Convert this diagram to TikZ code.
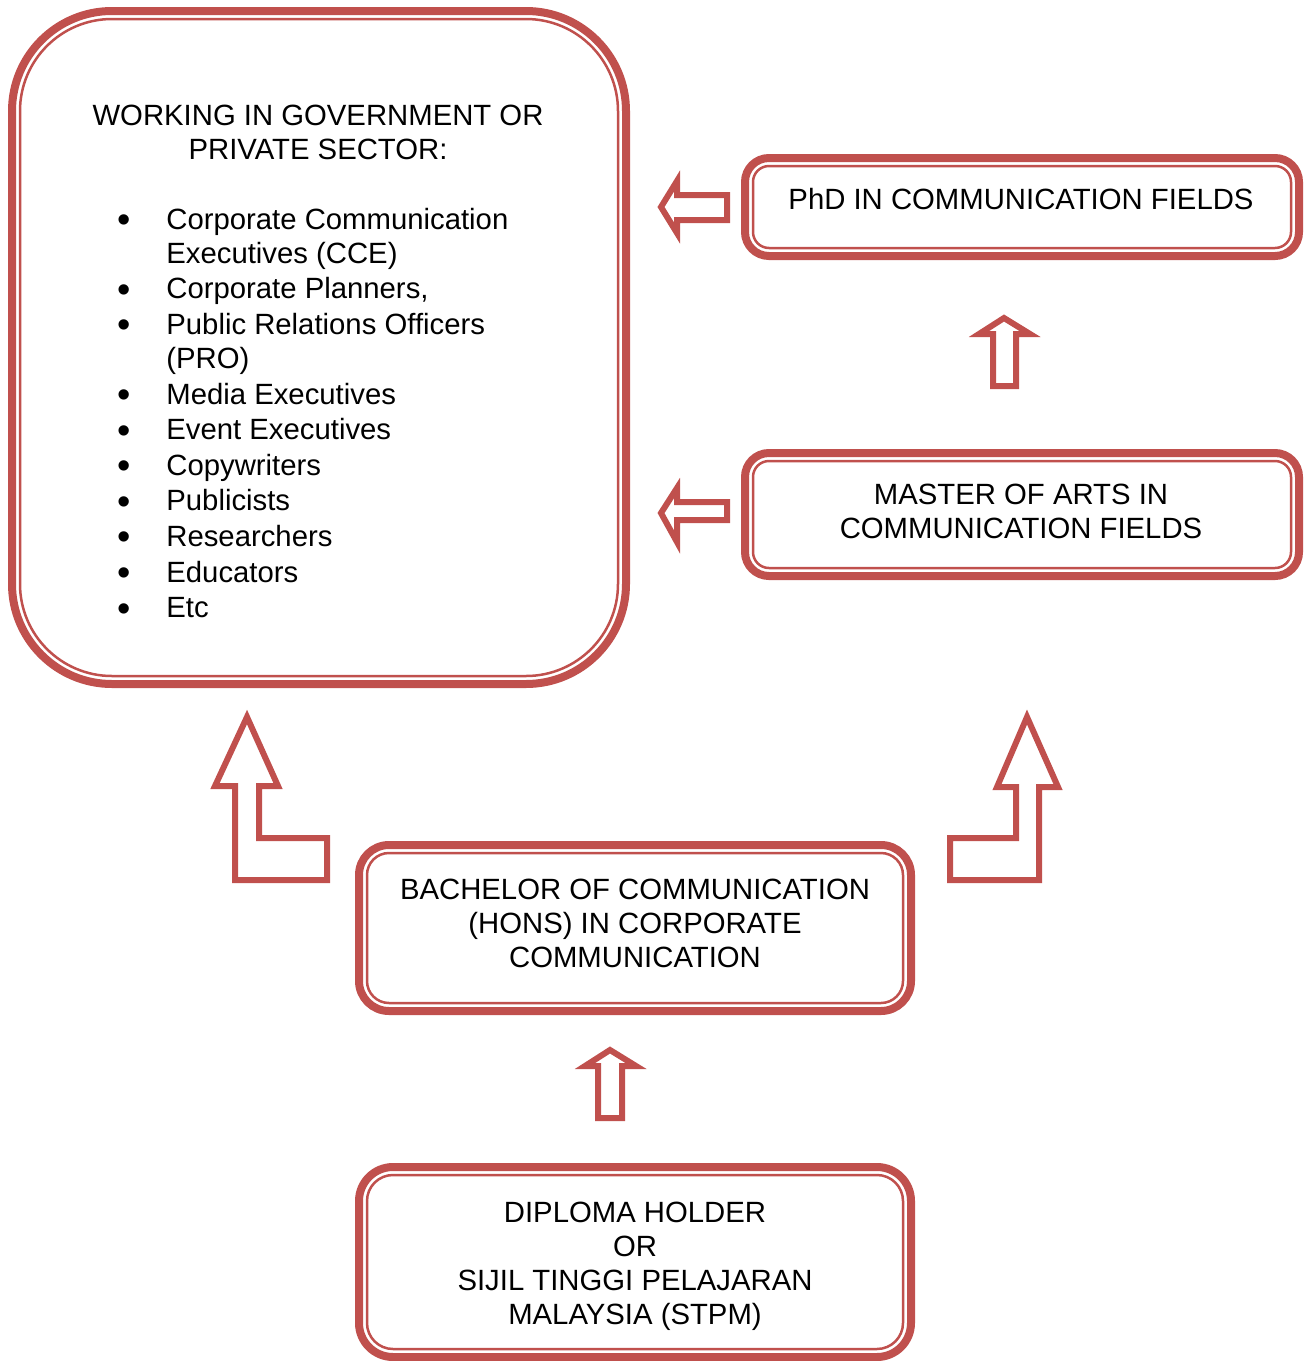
\documentclass[tikz,border=0pt]{standalone}
\usepackage{fontspec}
\setmainfont{Liberation Sans}
\usetikzlibrary{calc}
\definecolor{boxred}{HTML}{C0504D}
\newcommand{\bigbullet}{\raisebox{-1.7pt}{\fontsize{19pt}{17pt}\selectfont\textbullet}}

\begin{document}
\begin{tikzpicture}[x=0.5pt, y=-0.5pt, font=\fontsize{14.65pt}{17pt}\selectfont]

\tikzstyle{box}=[draw=boxred, line width=4pt, outer sep=0pt, inner sep=0pt]
\tikzstyle{innerline}=[draw=boxred, line width=1.25pt]
\tikzstyle{blockarrow}=[draw=boxred, line width=3pt, line join=miter]
\tikzstyle{boxtext}=[align=center, inner sep=0pt]

\useasboundingbox (0,0) rectangle (1303,1361);

% boxes, outer line
\node (W) [box, rounded corners=50pt, minimum width=307pt, minimum height=336.5pt] at (319,347.5) {};
\node (P) [box, rounded corners=12pt, minimum width=277pt, minimum height=49pt] at (1022,207) {};
\node (M) [box, rounded corners=12pt, minimum width=277pt, minimum height=61.5pt] at (1022,514.5) {};
\node (B) [box, rounded corners=15pt, minimum width=276pt, minimum height=83pt] at (635,928) {};
\node (D) [box, rounded corners=17pt, minimum width=276pt, minimum height=95pt] at (635,1262) {};

% boxes, inner line
\draw [innerline, rounded corners=46pt] ([shift={(4pt,-4pt)}]W.north west) rectangle ([shift={(-4pt,4pt)}]W.south east);
\draw [innerline, rounded corners=8pt] ([shift={(4pt,-4pt)}]P.north west) rectangle ([shift={(-4pt,4pt)}]P.south east);
\draw [innerline, rounded corners=8pt] ([shift={(4pt,-4pt)}]M.north west) rectangle ([shift={(-4pt,4pt)}]M.south east);
\draw [innerline, rounded corners=11pt] ([shift={(4pt,-4pt)}]B.north west) rectangle ([shift={(-4pt,4pt)}]B.south east);
\draw [innerline, rounded corners=13pt] ([shift={(4pt,-4pt)}]D.north west) rectangle ([shift={(-4pt,4pt)}]D.south east);

% texts
\node (Wt) [boxtext] at (318,132) {WORKING IN GOVERNMENT OR\\PRIVATE SECTOR:};
\node (Wl) [inner sep=0pt, anchor=north west] at (117,205) {%
\begin{tabular}{@{}p{24.5pt}@{}l@{}}
\bigbullet & Corporate Communication\\
           & Executives (CCE)\\[0.8pt]
\bigbullet & Corporate Planners,\\[0.8pt]
\bigbullet & Public Relations Officers\\
           & (PRO)\\[0.8pt]
\bigbullet & Media Executives\\[0.8pt]
\bigbullet & Event Executives\\[0.8pt]
\bigbullet & Copywriters\\[0.8pt]
\bigbullet & Publicists\\[0.8pt]
\bigbullet & Researchers\\[0.8pt]
\bigbullet & Educators\\[0.8pt]
\bigbullet & Etc
\end{tabular}};
\node (Pt) [boxtext] at (1021,199) {PhD IN COMMUNICATION FIELDS};
\node (Mt) [boxtext] at (1021,511) {MASTER OF ARTS IN\\COMMUNICATION FIELDS};
\node (Bt) [boxtext] at (635,923) {BACHELOR OF COMMUNICATION\\(HONS) IN CORPORATE\\COMMUNICATION};
\node (Dt) [boxtext] at (635,1266) {DIPLOMA HOLDER\\OR\\SIJIL TINGGI PELAJARAN\\MALAYSIA (STPM)};

% block arrows
\draw [blockarrow] (661,207) -- (677,181) -- (677,195) -- (727,195) -- (727,220) -- (677,220) -- (677,233) -- cycle;
\draw [blockarrow] (661,513) -- (677,488) -- (677,502) -- (727,502) -- (727,520) -- (677,520) -- (677,542) -- cycle;
\draw [blockarrow] (1004,318) -- (1030,334) -- (1016,334) -- (1016,386) -- (993,386) -- (993,334) -- (979,334) -- cycle;
\draw [blockarrow] (610,1050) -- (636,1066) -- (622,1066) -- (622,1118) -- (598,1118) -- (598,1066) -- (585,1066) -- cycle;
\draw [blockarrow] (247,717) -- (278,786) -- (259,786) -- (259,838) -- (327,838) -- (327,880) -- (235,880) -- (235,786) -- (215,786) -- cycle;
\draw [blockarrow] (1027,717) -- (1058,787) -- (1039,787) -- (1039,880) -- (950,880) -- (950,838) -- (1016,838) -- (1016,787) -- (997,787) -- cycle;

\end{tikzpicture}
\end{document}
